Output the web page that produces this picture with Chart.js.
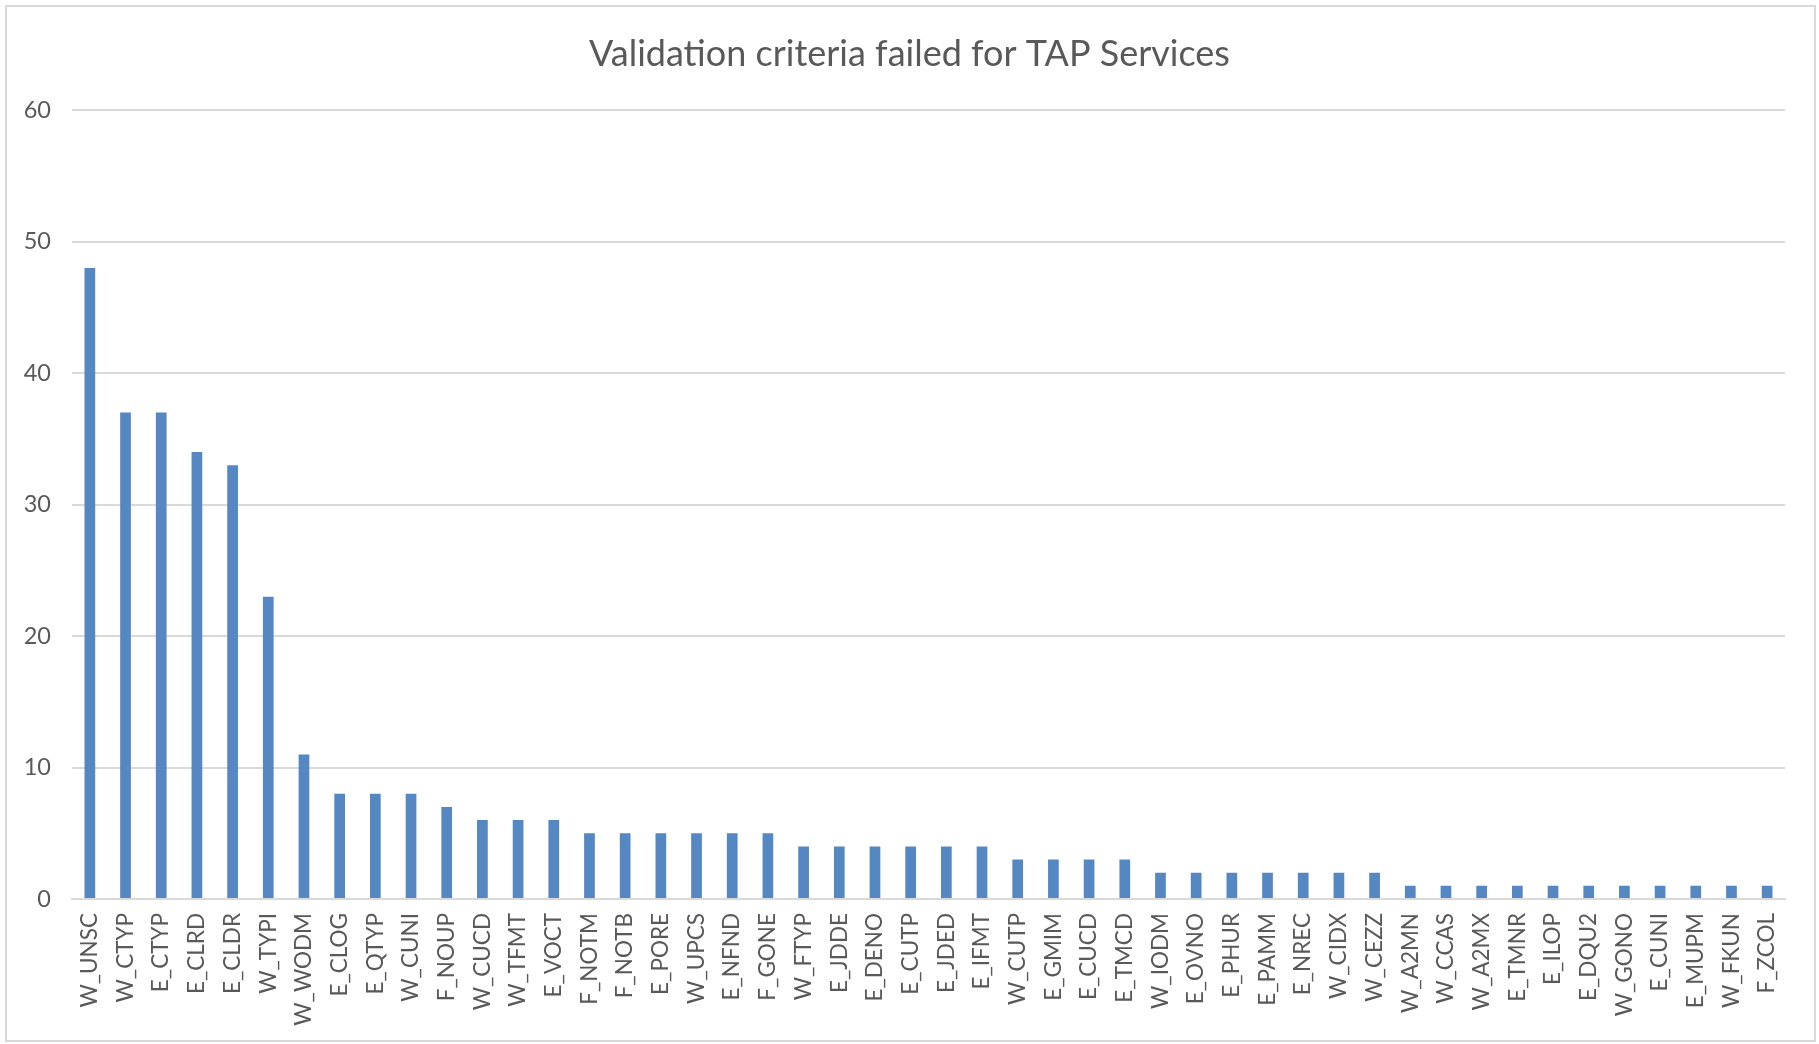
<!DOCTYPE html>
<html>
<head>
<meta charset="utf-8">
<script src="https://cdn.jsdelivr.net/npm/chart.js@4/dist/chart.umd.min.js"></script>
<style>
  body { margin: 0; background: #fff; }
  #frame { position: absolute; left: 5px; top: 5px; width: 1807px; height: 1033px; border: 2px solid #d9d9d9; }
  canvas { position: absolute; left: 0; top: 0; }
</style>
</head>
<body>
<div id="frame"></div>
<canvas id="criteriaChart" width="1819" height="1044"></canvas>
<script>
  // failed validation criteria, sorted by count
  const criteria = ["W_UNSC", "W_CTYP", "E_CTYP", "E_CLRD", "E_CLDR", "W_TYPI", "W_WODM", "E_CLOG",
    "E_QTYP", "W_CUNI", "F_NOUP", "W_CUCD", "W_TFMT", "E_VOCT", "F_NOTM", "F_NOTB", "E_PORE",
    "W_UPCS", "E_NFND", "F_GONE", "W_FTYP", "E_JDDE", "E_DENO", "E_CUTP", "E_JDED", "E_IFMT",
    "W_CUTP", "E_GMIM", "E_CUCD", "E_TMCD", "W_IODM", "E_OVNO", "E_PHUR", "E_PAMM", "E_NREC",
    "W_CIDX", "W_CEZZ", "W_A2MN", "W_CCAS", "W_A2MX", "E_TMNR", "E_ILOP", "E_DQU2", "W_GONO",
    "E_CUNI", "E_MUPM", "W_FKUN", "F_ZCOL"];
  const failCounts = [48, 37, 37, 34, 33, 23, 11, 8, 8, 8, 7, 6, 6, 6, 5, 5, 5, 5, 5, 5,
    4, 4, 4, 4, 4, 4, 3, 3, 3, 3, 2, 2, 2, 2, 2, 2, 2, 1, 1, 1, 1, 1, 1, 1, 1, 1, 1, 1];
  const yTicks = [0, 10, 20, 30, 40, 50, 60];

  const textColor = "#595959";
  const gridColor = "#d9d9d9";

  new Chart(document.getElementById("criteriaChart"), {
    type: "bar",
    data: {
      labels: criteria,
      datasets: [{
        label: "Failed",
        data: failCounts,
        backgroundColor: "#5587c3",
        categoryPercentage: 1,
        barPercentage: 0.3
      }]
    },
    options: {
      responsive: false,
      animation: false,
      layout: { padding: 0 },
      plugins: {
        legend: { display: false },
        tooltip: { enabled: false },
        title: {
          display: true,
          text: "Validation criteria failed for TAP Services",
          color: textColor,
          font: { family: "Lato", size: 36, weight: "normal", lineHeight: 1.2 },
          padding: { top: 33, bottom: 34 }
        }
      },
      scales: {
        x: {
          grid: { display: false, drawTicks: false },
          border: { color: gridColor, width: 2 },
          ticks: {
            autoSkip: false,
            maxRotation: 90,
            minRotation: 90,
            padding: 14,
            color: textColor,
            font: { family: "Lato", size: 22.5 }
          },
          afterFit: (scale) => { scale.height = 145; }
        },
        y: {
          min: 0,
          max: 60,
          afterBuildTicks: (scale) => { scale.ticks = yTicks.map(v => ({ value: v })); },
          grid: { color: gridColor, lineWidth: 2, drawTicks: false },
          border: { display: false },
          ticks: {
            padding: 21,
            color: textColor,
            font: { family: "Lato", size: 23.5 }
          },
          afterFit: (scale) => { scale.width = 72; }
        },
        // empty right margin so the title stays centred on the whole canvas
        yRight: {
          position: "right",
          grid: { display: false, drawTicks: false },
          border: { display: false },
          ticks: { display: false },
          afterFit: (scale) => { scale.width = 34; }
        }
      }
    }
  });
</script>
</body>
</html>
